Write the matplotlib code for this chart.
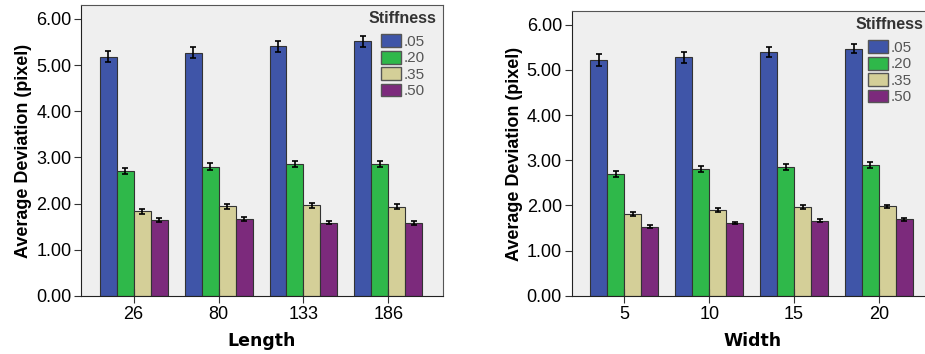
import numpy as np
import matplotlib.pyplot as plt
from matplotlib.patches import Patch

plt.rcParams['font.family'] = ['Liberation Sans', 'DejaVu Sans']

stiffness = ['.05', '.20', '.35', '.50']
colors = ['#3f55a8', '#2fb84a', '#d4cf98', '#7c2a7c']

length_labels = ['26', '80', '133', '186']
length_means = [
    [5.18, 5.27, 5.41, 5.51],
    [2.71, 2.80, 2.86, 2.86],
    [1.83, 1.94, 1.96, 1.93],
    [1.64, 1.66, 1.59, 1.58],
]
length_err = [
    [0.12, 0.12, 0.12, 0.12],
    [0.07, 0.07, 0.07, 0.07],
    [0.05, 0.05, 0.05, 0.05],
    [0.04, 0.04, 0.04, 0.04],
]

width_labels = ['5', '10', '15', '20']
width_means = [
    [5.22, 5.28, 5.40, 5.47],
    [2.70, 2.81, 2.85, 2.90],
    [1.81, 1.90, 1.97, 1.98],
    [1.53, 1.61, 1.66, 1.69],
]
width_err = [
    [0.13, 0.12, 0.11, 0.11],
    [0.07, 0.07, 0.07, 0.07],
    [0.04, 0.04, 0.04, 0.04],
    [0.03, 0.03, 0.03, 0.03],
]

fig = plt.figure(figsize=(9.25, 3.54), dpi=100)
ax1 = fig.add_axes([0.0876, 0.164, 0.391, 0.822])
ax2 = fig.add_axes([0.618, 0.164, 0.391, 0.805])


def draw(ax, labels, means, errs, xlabel, legend_x):
    x = np.arange(len(labels))
    bw = 0.2
    for i in range(len(stiffness)):
        ax.bar(x + (i - 1.5) * bw, means[i], bw, yerr=errs[i], color=colors[i],
               edgecolor='#333333', linewidth=0.8,
               error_kw=dict(ecolor='black', elinewidth=1.2, capsize=2, capthick=1.2))
    ax.set_facecolor('#efefef')
    ax.set_xlim(-0.62, 3.64)
    ax.set_ylim(0, 6.3)
    ax.set_yticks(np.arange(0, 7, 1))
    ax.set_yticklabels(['%.2f' % v for v in np.arange(0, 7, 1)], fontsize=13)
    ax.set_xticks(x)
    ax.set_xticklabels(labels, fontsize=13)
    ax.tick_params(axis='y', direction='out', length=5, color='#333333', pad=2)
    ax.tick_params(axis='x', direction='inout', length=10, color='#333333', pad=2)
    for s in ax.spines.values():
        s.set_color('#555555')
    ax.spines['left'].set_color('#222222')
    ax.spines['bottom'].set_color('#222222')
    ax.set_ylabel('Average Deviation (pixel)', fontsize=13, fontweight='bold', labelpad=3)
    ax.set_xlabel(xlabel, fontsize=12.5, fontweight='bold', labelpad=7,
                  family='DejaVu Sans')
    handles = [Patch(facecolor=c, edgecolor='#555555', label=s) for c, s in zip(colors, stiffness)]
    leg = ax.legend(handles=handles, title='Stiffness', loc='upper right',
                    bbox_to_anchor=(legend_x, 1.0), frameon=False,
                    fontsize=11, title_fontsize=11.5, handlelength=1.3, handleheight=0.9,
                    handletextpad=0.15, labelspacing=0.12, borderaxespad=0.1,
                    borderpad=0.3)
    for t in leg.get_texts():
        t.set_color('#555555')
    leg.get_title().set_fontweight('bold')
    leg.get_title().set_color('#333333')
    leg._legend_box.sep = 6


draw(ax1, length_labels, length_means, length_err, 'Length', 1.0)
draw(ax2, width_labels, width_means, width_err, 'Width', 0.99)

fig.savefig('out.png', dpi=100)
